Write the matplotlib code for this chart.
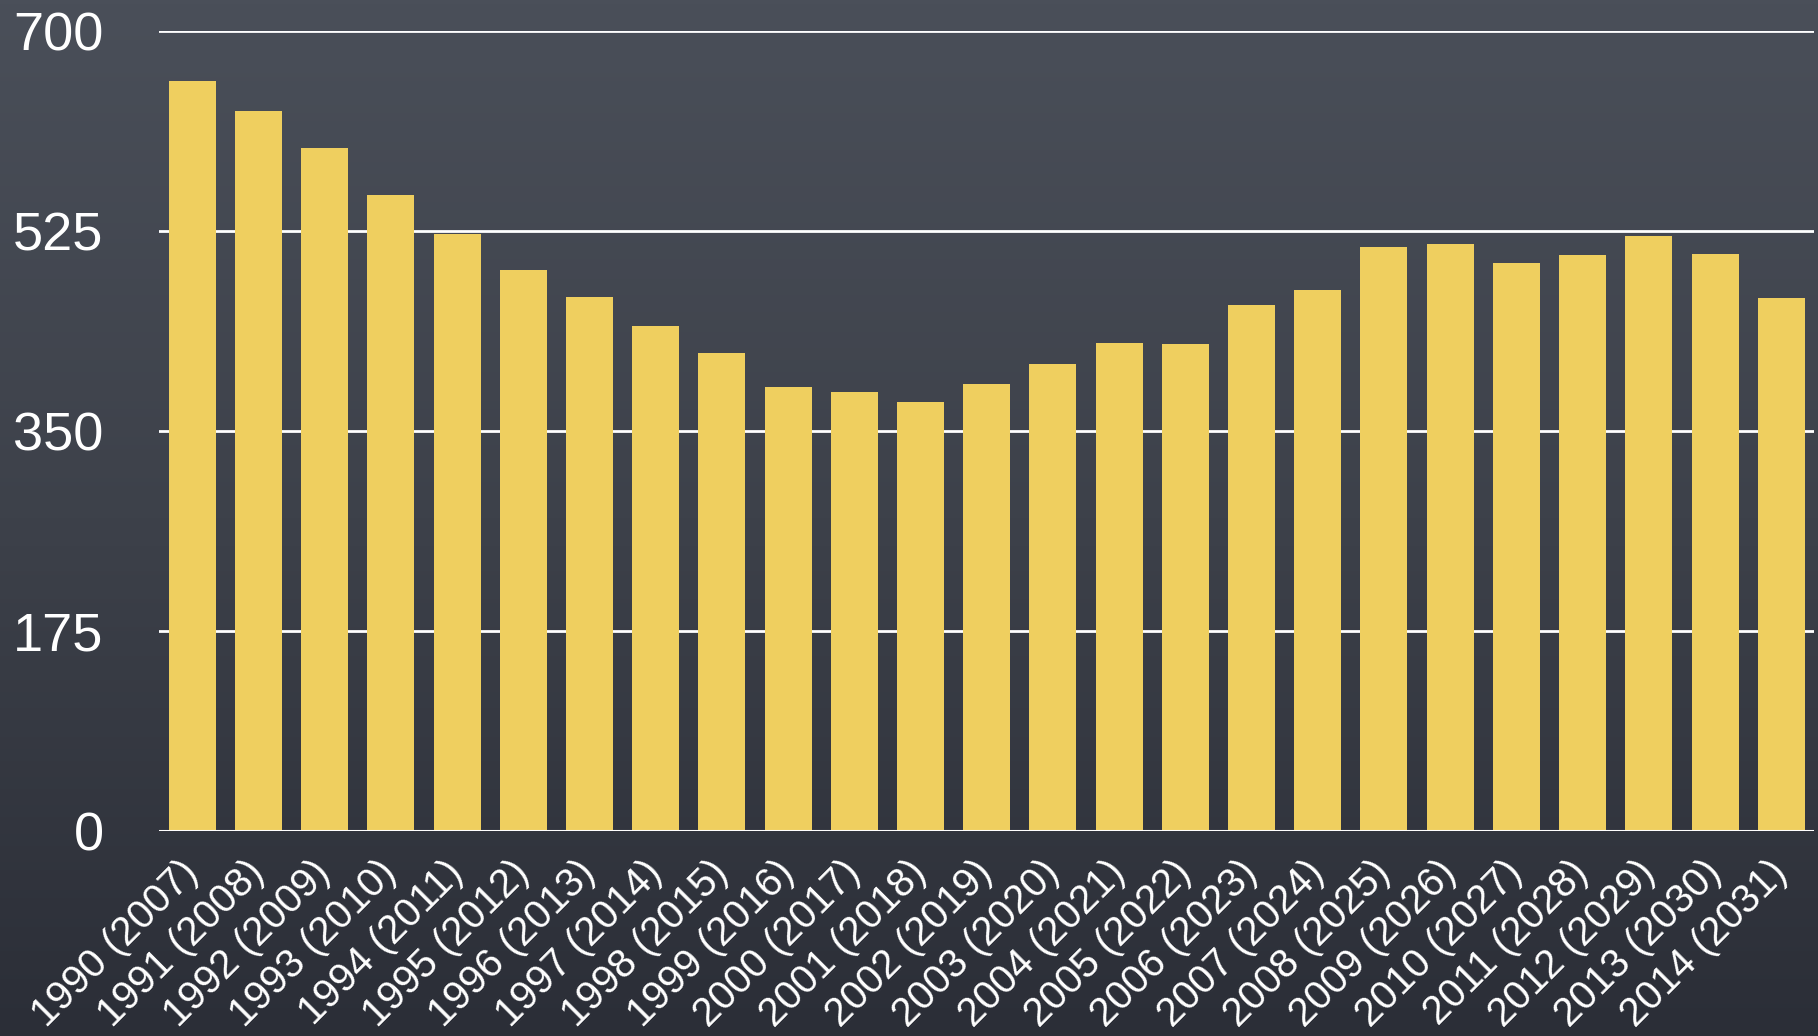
import numpy as np
import matplotlib
matplotlib.use("Agg")
import matplotlib.pyplot as plt

plt.rcParams["font.family"] = ["Liberation Sans", "DejaVu Sans"]

years = list(range(1990, 2015))
labels = [f"{y} ({y + 17})" for y in years]
values = [656, 630, 597, 556, 522, 491, 467, 442, 418, 388, 384, 375,
          391, 408, 427, 426, 460, 473, 511, 513, 497, 504, 520, 505, 466]
yticks = [0, 175, 350, 525, 700]

BAR_COLOR = "#efcf5f"
fig = plt.figure(figsize=(18.18, 10.36), dpi=100)

# chalkboard-ish background: vertical gradient
bg = fig.add_axes([0, 0, 1, 1], zorder=-10)
grad = np.linspace(0, 1, 256).reshape(-1, 1)
cmap = matplotlib.colors.LinearSegmentedColormap.from_list(
    "board", ["#4a4f59", "#3d414a", "#2b2e37"])
bg.imshow(grad, aspect="auto", cmap=cmap, extent=[0, 1, 0, 1])
bg.axis("off")

ax = fig.add_axes([0.0875, 0.198, 0.9105, 0.7724])
ax.patch.set_alpha(0)
x = np.arange(len(values))
ax.bar(x, values, width=0.71, color=BAR_COLOR, zorder=3)

ax.set_xlim(-0.5, len(values) - 0.5)
ax.set_ylim(0, 700)
ax.set_yticks(yticks)
ax.set_yticklabels([str(t) for t in yticks])
for t in yticks[1:]:
    ax.axhline(t, color="white", lw=2, zorder=1)
ax.axhline(0, color="white", lw=2.2, zorder=4)

for s in ax.spines.values():
    s.set_visible(False)

ax.tick_params(axis="y", length=0, pad=40, labelsize=39, labelcolor="white")
ax.tick_params(axis="x", length=0, pad=26, labelsize=29, labelcolor="white")
ax.set_xticks(x)
ax.set_xticklabels(labels, rotation=45, ha="right", va="center",
                   rotation_mode="anchor")

fig.savefig("out.png", dpi=100)
